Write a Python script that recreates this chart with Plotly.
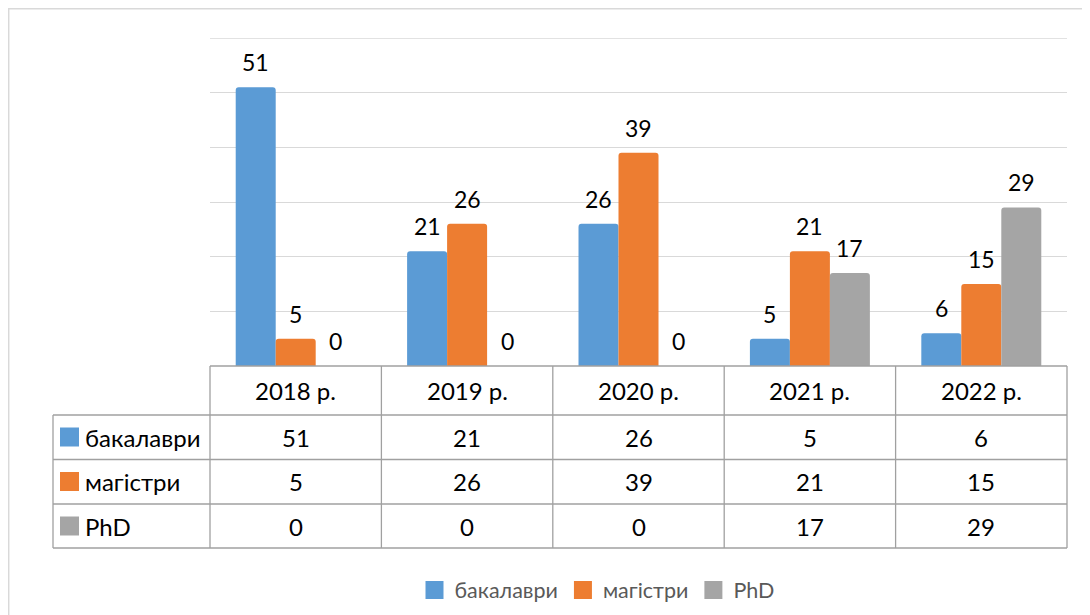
import plotly.graph_objects as go

years = ["2018 р.", "2019 р.", "2020 р.", "2021 р.", "2022 р."]
series_names = ["бакалаври", "магістри", "PhD"]
bakalavry = [51, 21, 26, 5, 6]
mahistry = [5, 26, 39, 21, 15]
phd = [0, 0, 0, 17, 29]
colors = ["#5B9BD5", "#ED7D31", "#A5A5A5"]

series_values = [bakalavry, mahistry, phd]

W, H = 1090, 615
OFF = 8  # page body margin offset (screen px -> figure px)
ML, MR, MT, MB = 202, 31, 30, 257
PW = W - ML - MR
PH = H - MT - MB
FONT = "Lato, 'Open Sans', sans-serif"
BORDER = "#A0A0A0"
GRID = "#D9D9D9"
Y_MAX = 60


def px_x(p):
    return (p - OFF - ML) / PW


def px_y(p):
    return (H - MB - (p - OFF)) / PH


bargap = 0.3
n = len(series_names)
bw = (1 - bargap) / n
xs = list(range(len(years)))

fig = go.Figure()
for k, (name, vals, col) in enumerate(zip(series_names, series_values, colors)):
    fig.add_trace(go.Bar(
        x=xs, y=vals, name=name, showlegend=False, legendgroup=name,
        marker=dict(color=col, line=dict(width=0), cornerradius=3),
        hoverinfo="skip",
    ))
# legend entries (square swatches)
for name, col in zip(series_names, colors):
    fig.add_trace(go.Scatter(
        x=[None], y=[None], mode="markers", name=name, legendgroup=name,
        marker=dict(symbol="square", size=16, color=col, line=dict(color=col, width=2)),
        hoverinfo="skip",
    ))

annotations = []
# bar value labels
for k, vals in enumerate(series_values):
    for i, v in enumerate(vals):
        annotations.append(dict(
            x=i + (k - (n - 1) / 2) * bw, y=v, xref="x", yref="y",
            text=str(v), showarrow=False, yshift=25, yanchor="middle",
            font=dict(family=FONT, size=23, color="#000000"),
        ))

shapes = []
# top gridline at the range maximum
shapes.append(dict(type="line", xref="paper", yref="y", x0=0, x1=1, y0=Y_MAX, y1=Y_MAX,
                   line=dict(color=GRID, width=1.3), layer="below"))
line = dict(color=BORDER, width=1.3)
# table horizontal lines
shapes.append(dict(type="line", xref="paper", yref="paper",
                   x0=0, x1=1, y0=px_y(366), y1=px_y(366), line=line))
row_lines = [415, 459.5, 504, 548]
for p in row_lines:
    shapes.append(dict(type="line", xref="paper", yref="paper",
                       x0=px_x(53), x1=1, y0=px_y(p), y1=px_y(p), line=line))
# vertical lines
shapes.append(dict(type="line", xref="paper", yref="paper",
                   x0=px_x(53), x1=px_x(53), y0=px_y(415), y1=px_y(548), line=line))
for j in range(len(years) + 1):
    xp = j / len(years)
    shapes.append(dict(type="line", xref="paper", yref="paper",
                       x0=xp, x1=xp, y0=px_y(366), y1=px_y(548), line=line))

TF = 24
# header texts
for i, yr in enumerate(years):
    annotations.append(dict(
        x=i, y=px_y(390.5), xref="x", yref="paper", text=yr, showarrow=False,
        yanchor="middle", font=dict(family=FONT, size=TF, color="#000000")))

row_centers = [437, 481.5, 526]
for k, (name, vals, col) in enumerate(zip(series_names, series_values, colors)):
    yc = row_centers[k]
    shapes.append(dict(type="rect", xref="paper", yref="paper",
                       x0=px_x(60), x1=px_x(79), y0=px_y(yc - 9.5), y1=px_y(yc + 9.5),
                       fillcolor=col, line=dict(width=0)))
    annotations.append(dict(
        x=px_x(83), y=px_y(yc), xref="paper", yref="paper", text=name,
        showarrow=False, xanchor="left", yanchor="middle",
        font=dict(family=FONT, size=TF, color="#000000")))
    for i, v in enumerate(vals):
        annotations.append(dict(
            x=i, y=px_y(yc), xref="x", yref="paper", text=str(v), showarrow=False,
            yanchor="middle", font=dict(family=FONT, size=TF, color="#000000")))

# outer chart border (cropped at right/bottom)
shapes.append(dict(type="rect", xref="paper", yref="paper",
                   x0=px_x(8.7), x1=px_x(1110), y0=px_y(8.7), y1=px_y(640),
                   line=dict(color=GRID, width=1.5), fillcolor="rgba(0,0,0,0)",
                   layer="below"))

fig.update_layout(
    width=W, height=H,
    margin=dict(l=ML, r=MR, t=MT, b=MB),
    paper_bgcolor="white", plot_bgcolor="white",
    barmode="group", bargap=bargap, bargroupgap=0,
    xaxis=dict(range=[-0.5, len(years) - 0.5], showticklabels=False, showgrid=False,
               zeroline=False, showline=False, fixedrange=True),
    yaxis=dict(range=[0, Y_MAX], dtick=10, showticklabels=False, showgrid=True,
               gridcolor=GRID, gridwidth=1.3, zeroline=False, showline=False,
               fixedrange=True),
    showlegend=True,
    legend=dict(orientation="h", x=px_x(597), xanchor="center", y=px_y(590),
                yanchor="middle", font=dict(family=FONT, size=21.5, color="#595959"),
                itemclick=False, itemdoubleclick=False, traceorder="normal"),
    annotations=annotations,
    shapes=shapes,
    font=dict(family=FONT),
)

fig.write_html("out.html")
